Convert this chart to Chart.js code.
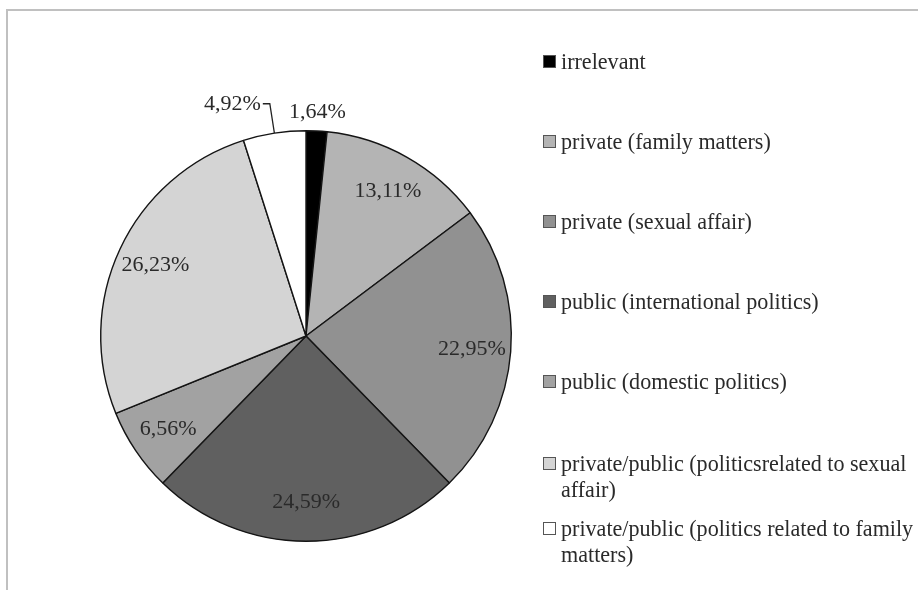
<!DOCTYPE html>
<html>
<head>
<meta charset="utf-8">
<script src="https://cdn.jsdelivr.net/npm/chart.js@4"></script>
<style>
  body { margin: 0; background: #fff; }
</style>
</head>
<body>
<canvas id="myChart" width="918" height="590"></canvas>
<script>
let labels = [
    'irrelevant',
    'private (family matters)',
    'private (sexual affair)',
    'public (international politics)',
    'public (domestic politics)',
    ['private/public (politicsrelated to sexual', 'affair)'],
    ['private/public (politics related to family', 'matters)']
]

let values = [1.64, 13.11, 22.95, 24.59, 6.56, 26.23, 4.92]

let colors = ['#000000', '#b4b4b4', '#919191', '#606060', '#a2a2a2', '#d4d4d4', '#ffffff']

const serif = '"Liberation Serif", "DejaVu Serif", serif'

// frame + percentage labels + legend, drawn by hand like the office chart
const decor = {
    id: 'decor',
    beforeDraw(chart) {
        let c = chart.ctx
        c.save()
        c.strokeStyle = '#c0c0c0'
        c.lineWidth = 2
        c.beginPath()
        c.moveTo(7, 600)
        c.lineTo(7, 10)
        c.lineTo(930, 10)
        c.stroke()
        c.restore()
    },
    afterDraw(chart) {
        let c = chart.ctx
        let meta = chart.getDatasetMeta(0)
        c.save()
        c.font = '22px ' + serif
        c.fillStyle = '#2a2a2a'
        c.textBaseline = 'middle'
        meta.data.forEach((arc, i) => {
            let v = values[i]
            let text = v.toFixed(2).replace('.', ',') + '%'
            let mid = (arc.startAngle + arc.endAngle) / 2
            let r = arc.outerRadius
            let px = f => arc.x + Math.cos(mid) * r * f
            let py = f => arc.y + Math.sin(mid) * r * f
            if (v >= 6) {
                c.textAlign = 'center'
                c.fillText(text, px(0.81), py(0.81))
            } else if (v < 3) {
                c.textAlign = 'center'
                c.fillText(text, px(1.09), py(1.09))
            } else {
                // leader line
                let ex = px(1), ey = py(1)
                let bx = px(1.145), by = py(1.145)
                c.strokeStyle = '#222'
                c.lineWidth = 1.3
                c.beginPath()
                c.moveTo(ex, ey)
                c.lineTo(bx, by)
                c.lineTo(bx - 7, by)
                c.stroke()
                c.textAlign = 'right'
                c.fillText(text, bx - 9, by)
            }
        })

        // legend, font sized so the longest line spans like the original
        c.font = '20px ' + serif
        let w = c.measureText(labels[6][0]).width
        let size = Math.min(24, 20 * 352 / w)
        c.font = size.toFixed(1) + 'px ' + serif
        c.textAlign = 'left'
        let top = 62
        labels.forEach((lab, i) => {
            let lines = Array.isArray(lab) ? lab : [lab]
            c.fillStyle = colors[i]
            c.fillRect(543.5, top - 6.5, 12, 12)
            c.strokeStyle = '#555'
            c.lineWidth = 1
            c.strokeRect(543.5, top - 6.5, 12, 12)
            c.fillStyle = '#2a2a2a'
            lines.forEach((ln, j) => c.fillText(ln, 561, top + 1 + j * 26))
            top += i == 5 ? 65 : i == 4 ? 82 : 80
        })
        c.restore()
    }
}

let ctx = document.getElementById('myChart')
let myChart = new Chart(ctx, {
    type: 'pie',
    data: {
        labels,
        datasets: [
            {
                data: values,
                backgroundColor: colors,
                borderColor: '#141414',
                borderWidth: 1.4
            }
        ]
    },
    options: {
        responsive: false,
        animation: false,
        layout: {
            padding: { left: 100, right: 406, top: 130, bottom: 48 }
        },
        plugins: {
            legend: { display: false },
            tooltip: { enabled: false }
        }
    },
    plugins: [decor]
})
</script>
</body>
</html>
